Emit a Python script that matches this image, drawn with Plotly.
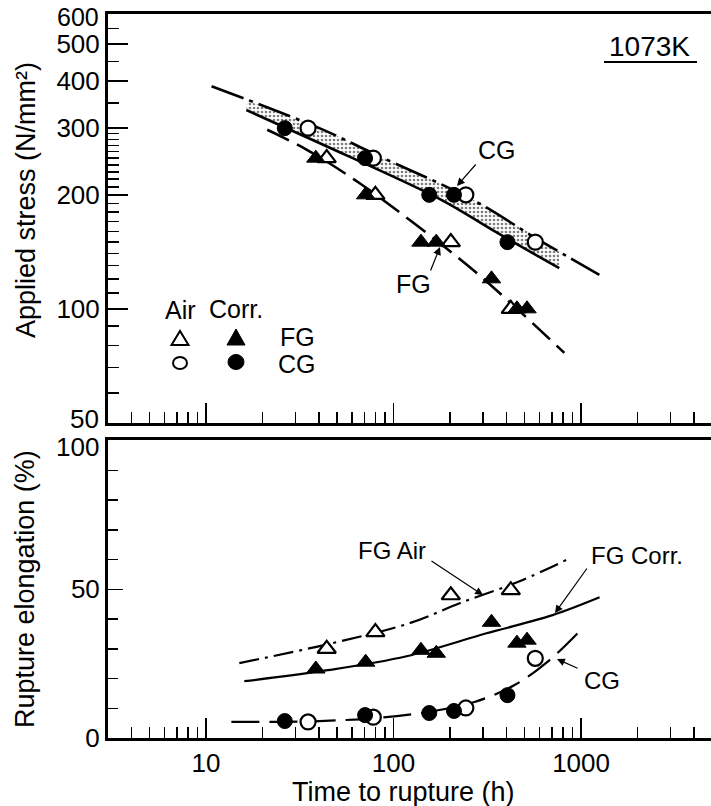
import numpy as np
import plotly.graph_objects as go

# ---------------- data ----------------
# Specimens: time to rupture (h), applied stress (N/mm^2), rupture elongation (%)
fg_air_t = [44, 80, 202, 422]
fg_air_s = [250, 200, 150, 100]
fg_air_el = [30.0, 35.6, 48.0, 49.7]

fg_corr_t = [38.5, 71, 140, 169, 333, 455, 515]
fg_corr_s = [250, 200, 150, 150, 120, 100, 100]
fg_corr_el = [23.2, 25.5, 29.5, 28.5, 38.9, 31.9, 32.9]

cg_air_t = [35, 78, 243, 570]
cg_air_s = [300, 250, 200, 150]
cg_air_el = [5.4, 7.0, 10.1, 26.8]

cg_corr_t = [26.3, 70.5, 155, 210, 405]
cg_corr_s = [300, 250, 200, 200, 150]
cg_corr_el = [5.7, 7.7, 8.4, 9.1, 14.4]

# fitted curves (stress panel)
cg_air_curve_t = [10.7, 40.2, 79.6, 264.6, 570, 1252]
cg_air_curve_s = [387, 300, 256, 194, 154, 123]
cg_corr_curve_t = [16.4, 40.2, 179.7, 336, 765]
cg_corr_curve_s = [335, 274, 194, 161.6, 128]
band_top_t = [16.6, 40.2, 79.6, 264.6, 765]
band_top_s = [354, 300, 256, 194, 142]
fg_curve_t = [21.2, 34.7, 65.7, 132.3, 294, 814]
fg_curve_s = [297, 262.6, 214.9, 166.4, 121.4, 76.5]

# fitted curves (elongation panel)
fg_air_el_curve_t = [15.05, 47.3, 121.7, 225, 470, 869]
fg_air_el_curve_v = [25.2, 31.9, 38.6, 45.3, 52.7, 60.4]
fg_corr_el_curve_t = [16.0, 44.5, 117.3, 313, 705, 1255]
fg_corr_el_curve_v = [19.1, 22.8, 27.5, 35.2, 41.3, 47.3]
cg_el_curve_t = [13.65, 40.2, 91.5, 175.5, 270, 442, 679, 1018]
cg_el_curve_v = [5.4, 5.7, 7.0, 9.4, 12.1, 17.8, 26.2, 36.9]

# ticks
x_major = [10, 100, 1000]
x_minor = [4, 5, 6, 7, 8, 9, 20, 30, 40, 50, 60, 70, 80, 90,
           200, 300, 400, 500, 600, 700, 800, 900, 2000, 3000, 4000]
ys_major = [50, 100, 200, 300, 400, 500, 600]
ys_labels = ["", "100", "200", "300", "400", "500", ""]   # 50 / 600 placed as text
ys_minor = [60, 70, 80, 90, 110, 120, 130, 140, 150, 160, 170, 180, 190,
            210, 220, 230, 240, 250, 260, 270, 280, 290, 350, 450, 550]
ye_major = [0, 50, 100]
ye_labels = ["0", "50", ""]                                 # 100 placed as text

FONT = "Liberation Sans, Arial, sans-serif"
W, H = 711, 806
ML, MR, MT, MB = 108, 0, 14, 68
PW, PH = W - ML - MR, H - MT - MB


def px(x):
    return (x - ML) / PW


def py(y):
    return (H - MB - y) / PH


fig = go.Figure()


def curve(t, v, xa, ya, dash, width=2.5):
    fig.add_trace(go.Scatter(x=t, y=v, mode="lines", xaxis=xa, yaxis=ya,
                             line=dict(color="black", width=width, dash=dash,
                                       shape="spline", smoothing=1.0),
                             showlegend=False, hoverinfo="skip"))


def marks(t, v, sym, filled, xa, ya, size):
    fig.add_trace(go.Scatter(
        x=t, y=v, mode="markers", xaxis=xa, yaxis=ya,
        marker=dict(symbol=sym, size=size,
                    color="black" if filled else "white",
                    line=dict(color="black", width=1 if filled else 2.2)),
        showlegend=False, hoverinfo="skip", cliponaxis=False))


# --- stress panel: shaded band ---
fig.add_trace(go.Scatter(x=cg_corr_curve_t, y=cg_corr_curve_s, mode="lines",
                         xaxis="x", yaxis="y",
                         line=dict(width=0, shape="spline"), showlegend=False,
                         hoverinfo="skip"))
fig.add_trace(go.Scatter(x=band_top_t, y=band_top_s, mode="lines",
                         xaxis="x", yaxis="y", fill="tonexty",
                         fillcolor="rgba(0,0,0,0)",
                         fillpattern=dict(shape=".", fgcolor="black",
                                          bgcolor="white", size=4,
                                          solidity=0.35),
                         line=dict(width=0, shape="spline"), showlegend=False,
                         hoverinfo="skip"))
curve(cg_air_curve_t, cg_air_curve_s, "x", "y", "34px,6px,4px,6px", 2.6)
curve(cg_corr_curve_t, cg_corr_curve_s, "x", "y", "solid", 2.6)
curve(fg_curve_t, fg_curve_s, "x", "y", "24px,9px", 2.6)

marks(fg_air_t, fg_air_s, "triangle-up", False, "x", "y", 16)
marks(fg_corr_t, fg_corr_s, "triangle-up", True, "x", "y", 16)
marks(cg_air_t, cg_air_s, "circle", False, "x", "y", 15)
marks(cg_corr_t, cg_corr_s, "circle", True, "x", "y", 15)

# --- elongation panel ---
curve(fg_air_el_curve_t, fg_air_el_curve_v, "x2", "y2", "20px,6px,3px,6px", 2.2)
curve(fg_corr_el_curve_t, fg_corr_el_curve_v, "x2", "y2", "solid", 2.2)
curve(cg_el_curve_t, cg_el_curve_v, "x2", "y2", "28px,10px", 2.2)

marks(fg_air_t, fg_air_el, "triangle-up", False, "x2", "y2", 16)
marks(fg_corr_t, fg_corr_el, "triangle-up", True, "x2", "y2", 16)
marks(cg_air_t, cg_air_el, "circle", False, "x2", "y2", 15)
marks(cg_corr_t, cg_corr_el, "circle", True, "x2", "y2", 15)

tickfont = dict(family=FONT, size=26, color="black")
xbase = dict(type="log", range=[np.log10(3), 3.693], showgrid=False,
             zeroline=False, showline=True, linecolor="black", linewidth=3,
             mirror=True, ticks="inside", ticklen=20, tickwidth=1.5,
             tickcolor="black", tickmode="array", tickvals=x_major,
             ticktext=[str(v) for v in x_major],
             minor=dict(tickmode="array", tickvals=x_minor, ticks="inside",
                        ticklen=11, tickwidth=1.5, tickcolor="black"),
             tickfont=tickfont, ticklabeloverflow="allow")

top_dom = [py(423), 1]
bot_dom = [0, py(440)]

fig.update_layout(
    width=W, height=H, margin=dict(l=ML, r=MR, t=MT, b=MB),
    paper_bgcolor="white", plot_bgcolor="white",
    font=dict(family=FONT, color="black"),
    xaxis=dict(xbase, anchor="y", showticklabels=False),
    xaxis2=dict(xbase, anchor="y2", showticklabels=True),
    yaxis=dict(type="log", domain=top_dom, anchor="x",
               range=[np.log10(49.95), np.log10(600.5)], showgrid=False,
               zeroline=False, showline=True, linecolor="black", linewidth=3,
               ticks="inside", ticklen=20, tickwidth=1.5, tickcolor="black",
               tickmode="array", tickvals=ys_major, ticktext=ys_labels,
               minor=dict(tickmode="array", tickvals=ys_minor, ticks="inside",
                          ticklen=11, tickwidth=1.5, tickcolor="black"),
               tickfont=tickfont, ticklabeloverflow="allow"),
    yaxis2=dict(domain=bot_dom, anchor="x2", range=[0, 100.2], showgrid=False,
                zeroline=False, showline=True, linecolor="black", linewidth=3,
                ticks="inside", ticklen=15, tickwidth=1.5, tickcolor="black",
                tickmode="array", tickvals=ye_major, ticktext=ye_labels,
                minor=dict(dtick=10, ticks="inside", ticklen=10,
                           tickwidth=1.5, tickcolor="black"),
                tickfont=tickfont, ticklabeloverflow="allow"),
)

ann = []


def text(s, x, y, size=25, angle=0, xanchor="center"):
    ann.append(dict(text=s, x=px(x), y=py(y), xref="paper", yref="paper",
                    showarrow=False, textangle=angle,
                    font=dict(family=FONT, size=size, color="black"),
                    xanchor=xanchor, yanchor="middle"))


def arrow(tx, ty, hx, hy):
    ann.append(dict(text="", x=px(hx), y=py(hy), xref="paper", yref="paper",
                    ax=tx - hx, ay=ty - hy, showarrow=True, arrowhead=2,
                    arrowsize=1.3, arrowwidth=1.2, arrowcolor="black"))


# end-of-axis tick labels (offset like the original)
text(str(ys_major[-1]), 101, 17, 25, xanchor="right")
text(str(ys_major[0]), 101, 419, 26, xanchor="right")
text(str(ye_major[-1]), 101, 447, 26, xanchor="right")

# axis titles
text("Applied stress (N/mm²)", 26, 200, 27, -90)
text("Rupture elongation (%)", 25, 589, 27, -90)
text("Time to rupture (h)", 403, 792, 27)

# top panel annotations
text("1073K", 649, 46, 28)
text("CG", 497, 150, 25)
arrow(477, 163, 457, 186)
text("FG", 413, 284, 25)
arrow(430, 272, 440, 247)

# legend text
text("Air", 180, 310, 25)
text("Corr.", 236, 309, 25)
text("FG", 297, 337, 25)
text("CG", 297, 364, 25)

# bottom panel annotations
text("FG Air", 392, 550, 24)
arrow(430, 560, 483, 595)
text("FG Corr.", 637, 556, 24)
arrow(588, 567, 555, 613)
text("CG", 602, 680, 24)
arrow(579, 669, 557, 659)

fig.update_layout(annotations=ann)

# legend keys (drawn as layout shapes)
shapes = []


def tri(cx, cy, w, h, filled):
    p = "M {} {} L {} {} L {} {} Z".format(
        px(cx - w / 2), py(cy + h / 2), px(cx + w / 2), py(cy + h / 2),
        px(cx), py(cy - h / 2))
    shapes.append(dict(type="path", path=p, xref="paper", yref="paper",
                       fillcolor="black" if filled else "white",
                       line=dict(color="black", width=1 if filled else 2)))


def circ(cx, cy, w, h, filled):
    shapes.append(dict(type="circle", xref="paper", yref="paper",
                       x0=px(cx - w / 2), x1=px(cx + w / 2),
                       y0=py(cy + h / 2), y1=py(cy - h / 2),
                       fillcolor="black" if filled else "white",
                       line=dict(color="black", width=1 if filled else 2)))


tri(180, 338, 17, 14, False)
tri(236, 337, 18, 16, True)
circ(180, 363, 14, 12, False)
circ(236, 362, 16, 15, True)

# underline of the temperature label
shapes.append(dict(type="line", xref="paper", yref="paper",
                   x0=px(604), x1=px(697), y0=py(62), y1=py(62),
                   line=dict(color="black", width=2)))
fig.update_layout(shapes=shapes)

fig.write_html(
    "out.html",
    config={"displayModeBar": False, "staticPlot": True},
    post_script="document.body.style.margin='0px';"
                "document.documentElement.style.overflow='hidden';")
